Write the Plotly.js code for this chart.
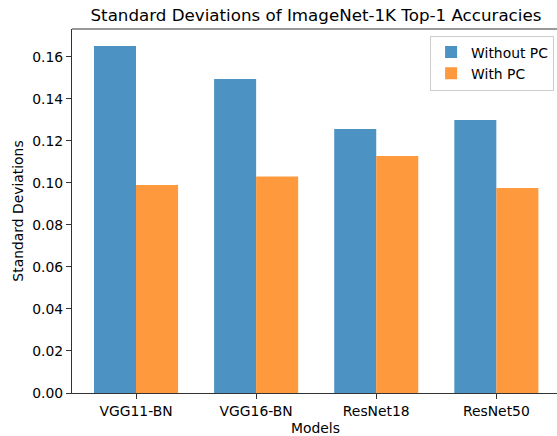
<!DOCTYPE html>
<html>
<head>
<meta charset="utf-8">
<script src="https://cdn.plot.ly/plotly-3.0.1.min.js"></script>
<style>html,body{margin:0;padding:0;background:#fff;overflow:hidden}</style>
</head>
<body>
<div id="chart" style="width:557px;height:436px"></div>
<script>
const models = ["VGG11-BN", "VGG16-BN", "ResNet18", "ResNet50"];
const withoutPC = [0.1651, 0.1494, 0.1256, 0.1299];
const withPC = [0.0990, 0.1030, 0.1128, 0.0975];
const yTicks = [0, 0.02, 0.04, 0.06, 0.08, 0.10, 0.12, 0.14, 0.16];
const yTickLabels = ["0.00", "0.02", "0.04", "0.06", "0.08", "0.10", "0.12", "0.14", "0.16"];

const FONT = "DejaVu Sans, sans-serif";
const data = [
  {type: "bar", name: "Without PC", x: models, y: withoutPC, width: 0.35, offset: -0.35,
   marker: {color: "rgba(31,119,180,0.8)", line: {width: 0}}},
  {type: "bar", name: "With PC", x: models, y: withPC, width: 0.35, offset: 0,
   marker: {color: "rgba(255,127,14,0.8)", line: {width: 0}}}
];
const layout = {
  width: 557, height: 436,
  margin: {l: 72, r: 0, t: 29, b: 42.5},
  paper_bgcolor: "#fff", plot_bgcolor: "#fff",
  font: {family: FONT, size: 13.9, color: "#000"},
  title: {text: "Standard Deviations of ImageNet-1K Top-1 Accuracies", font: {size: 16.7, family: FONT, color: "#000"},
          xref: "paper", x: 0.503, xanchor: "center", yref: "container", y: 1 - 15/436, yanchor: "middle"},
  showlegend: true,
  legend: {x: 0.994, xanchor: "right", y: 0.982, yanchor: "top", bgcolor: "rgba(255,255,255,0.8)",
           bordercolor: "#cccccc", borderwidth: 1, font: {size: 13.9, family: FONT}, tracegroupgap: 0},
  xaxis: {type: "category", range: [-0.533, 3.505], showgrid: false, zeroline: false,
          showline: true, linecolor: "#333", linewidth: 1, mirror: false,
          ticks: "outside", ticklen: 5, tickwidth: 1, tickcolor: "#333",
          tickfont: {size: 13.9, family: FONT}, fixedrange: true},
  yaxis: {range: [0, 0.1732], showgrid: false, zeroline: false,
          showline: true, linecolor: "#333", linewidth: 1, mirror: false,
          ticks: "outside", ticklen: 5, tickwidth: 1, tickcolor: "#333",
          tickmode: "array", tickvals: yTicks, ticktext: yTickLabels,
          tickfont: {size: 13.9, family: FONT},
          title: {text: "Standard Deviations", font: {size: 13.9, family: FONT}, standoff: 5}},
  annotations: [{text: "Models", xref: "paper", yref: "paper", x: 0.503, y: -0.0974,
                 xanchor: "center", yanchor: "middle", showarrow: false,
                 font: {size: 13.9, family: FONT, color: "#000"}}],
  shapes: [{type: "line", xref: "paper", yref: "paper", x0: 0, x1: 1, y0: 1, y1: 1,
            line: {color: "#333", width: 1}}]
};
Plotly.newPlot("chart", data, layout, {displayModeBar: false, staticPlot: true});
</script>
</body>
</html>
